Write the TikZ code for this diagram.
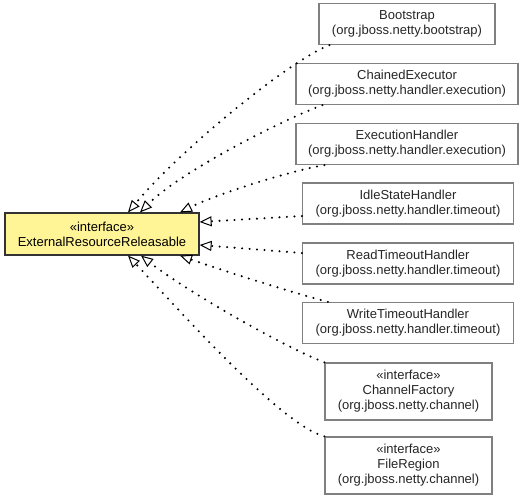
\documentclass[tikz,border=0pt]{standalone}
\usepackage{fontspec}
\setmainfont{Liberation Sans}
\usetikzlibrary{arrows.meta}
\definecolor{ifacefill}{RGB}{255,244,150}
\definecolor{ifaceline}{gray}{0.2}
\definecolor{clsline}{gray}{0.5}
\definecolor{clstext}{gray}{0.15}
\tikzset{
  umlbox/.style={draw=clsline,line width=1.2pt,fill=white,inner sep=0pt,align=center,
    font=\fontsize{13}{15}\selectfont,text=clstext},
  cls/.style={umlbox,minimum height=41pt},
  iface/.style={umlbox,minimum height=57pt},
  mainbox/.style={umlbox,draw=ifaceline,fill=ifacefill,text=black,minimum height=42pt},
  realize/.style={line width=2.3pt,dash pattern=on 0pt off 7.5pt,line cap=round,
    -{Triangle[open,fill=white,length=12pt,width=10pt,line width=1pt]}},
}
\begin{document}
\begin{tikzpicture}[x=1pt,y=-1pt]
  \useasboundingbox (0,0) rectangle (525,501);
  \node[mainbox,minimum width=194pt] (ext) at (102,234) {«interface»\\ExternalResourceReleasable};
  \node[cls,minimum width=176pt] (boot) at (407,24) {Bootstrap\\(org.jboss.netty.bootstrap)};
  \node[cls,minimum width=222pt] (chain) at (407,84) {ChainedExecutor\\(org.jboss.netty.handler.execution)};
  \node[cls,minimum width=222pt] (exec) at (407,144) {ExecutionHandler\\(org.jboss.netty.handler.execution)};
  \node[cls,minimum width=211pt] (idle) at (408,203.5) {IdleStateHandler\\(org.jboss.netty.handler.timeout)};
  \node[cls,minimum width=211pt] (read) at (408,263.5) {ReadTimeoutHandler\\(org.jboss.netty.handler.timeout)};
  \node[cls,minimum width=211pt] (write) at (408,323) {WriteTimeoutHandler\\(org.jboss.netty.handler.timeout)};
  \node[iface,minimum width=167pt] (chfac) at (408.5,391.5) {«interface»\\ChannelFactory\\(org.jboss.netty.channel)};
  \node[iface,minimum width=167pt] (freg) at (408.5,465.5) {«interface»\\FileRegion\\(org.jboss.netty.channel)};
  % realizations
  \draw[realize] ([xshift=11pt]boot.south west) .. controls (290,60) and (180,150) .. ([xshift=26pt]ext.north);
  \draw[realize] ([xshift=27pt]chain.south west) .. controls (280,121) and (180,172) .. ([xshift=38pt]ext.north);
  \draw[realize] ([xshift=29pt]exec.south west) .. controls (285,172) and (215,195) .. ([xshift=78pt]ext.north);
  \draw[realize] ([yshift=-12.5pt]idle.west) -- ([yshift=12pt]ext.east);
  \draw[realize] ([yshift=10.5pt]read.west) -- ([yshift=-11pt]ext.east);
  \draw[realize] ([xshift=26pt]write.north west) .. controls (290,292) and (215,268) .. ([xshift=78pt]ext.south);
  \draw[realize] (chfac.north west) .. controls (280,345) and (185,290) .. ([xshift=39pt]ext.south);
  \draw[realize] (freg.north west) .. controls (280,425) and (170,300) .. ([xshift=26pt]ext.south);
\end{tikzpicture}
\end{document}
